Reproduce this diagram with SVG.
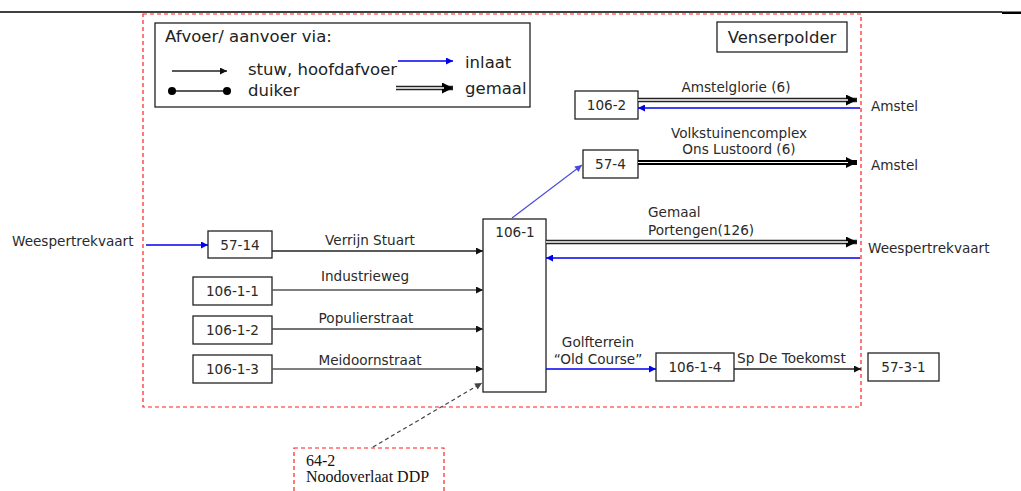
<svg xmlns="http://www.w3.org/2000/svg" width="1021" height="491" viewBox="0 0 1021 491">
<style>
.t{font-family:"DejaVu Sans",Verdana,sans-serif;font-size:13.6px;fill:#2a2a2a}
.tl{font-family:"DejaVu Sans",Verdana,sans-serif;font-size:16.5px;fill:#222}
.ts{font-family:"Liberation Serif","Times New Roman",serif;font-size:16px;fill:#111}
.box{fill:#fff;stroke:#222;stroke-width:1.3}
.red{fill:none;stroke:#ff2020;stroke-width:1.2;stroke-dasharray:4,3}
.blk{fill:none;stroke:#222;stroke-width:1.3}
.blu{fill:none;stroke:#0000ee;stroke-width:1.3}
.dbl{fill:none;stroke:#222;stroke-width:4.5}
.gap{fill:none;stroke:#fff;stroke-width:1.5}
</style>
<defs>
<marker id="ah" viewBox="0 0 10 10" refX="10" refY="5" markerWidth="8" markerHeight="7" markerUnits="userSpaceOnUse" orient="auto"><path d="M0,0 L10,5 L0,10 z" fill="#111"/></marker>
<marker id="ahb" viewBox="0 0 10 10" refX="10" refY="5" markerWidth="8" markerHeight="7" markerUnits="userSpaceOnUse" orient="auto"><path d="M0,0 L10,5 L0,10 z" fill="#0000ee"/></marker>
<marker id="ahl" viewBox="0 0 10 10" refX="10" refY="5" markerWidth="8" markerHeight="7" markerUnits="userSpaceOnUse" orient="auto"><path d="M0,0 L10,5 L0,10 z" fill="#4848dd"/></marker>
<marker id="ahg" viewBox="0 0 10 10" refX="10" refY="5" markerWidth="8" markerHeight="7" markerUnits="userSpaceOnUse" orient="auto"><path d="M0,0 L10,5 L0,10 z" fill="#444"/></marker>
<marker id="big" viewBox="0 0 10 10" refX="10" refY="5" markerWidth="11" markerHeight="11" markerUnits="userSpaceOnUse" orient="auto"><path d="M0,0 L10,5 L0,10 z" fill="#000"/></marker>
<marker id="dot" viewBox="0 0 10 10" refX="5" refY="5" markerWidth="8" markerHeight="8" markerUnits="userSpaceOnUse"><circle cx="5" cy="5" r="5" fill="#000"/></marker>
</defs>
<rect width="1021" height="491" fill="#fff"/>
<line x1="0" y1="12" x2="1002" y2="12" stroke="#000" stroke-width="1.3"/>
<rect x="1002" y="11.5" width="19" height="2.5" fill="#000"/>
<rect id="venserpolder-area" x="143" y="14" width="718" height="393" class="red"/>

<g id="legend">
<rect x="155" y="23" width="375" height="84" class="box"/>
<text x="165" y="42" class="tl">Afvoer/ aanvoer via:</text>
<line x1="172" y1="71" x2="227" y2="71" class="blk" marker-end="url(#ah)"/>
<text x="248" y="75" class="tl">stuw, hoofdafvoer</text>
<line x1="172" y1="91" x2="227" y2="91" class="blk" marker-start="url(#dot)" marker-end="url(#dot)"/>
<text x="248" y="96" class="tl">duiker</text>
<line x1="398" y1="61" x2="453" y2="61" class="blu" marker-end="url(#ahb)"/>
<text x="465" y="68" class="tl">inlaat</text>
<line x1="396" y1="88" x2="453" y2="88" class="dbl" marker-end="url(#big)"/>
<line x1="396" y1="88" x2="444" y2="88" class="gap"/>
<text x="465" y="94" class="tl">gemaal</text>
</g>

<g id="venserpolder-label">
<rect x="717" y="22" width="130" height="30" class="box"/>
<text x="782" y="43" class="tl" text-anchor="middle">Venserpolder</text>
</g>

<g id="n106-2"><rect x="575" y="91" width="63" height="28" class="box"/><text x="606.5" y="110" class="t" text-anchor="middle">106-2</text></g>
<g id="n57-4"><rect x="583" y="150" width="55" height="28" class="box"/><text x="610.5" y="169" class="t" text-anchor="middle">57-4</text></g>
<g id="n106-1"><rect x="483" y="219" width="63" height="173" class="box"/><text x="515" y="237" class="t" text-anchor="middle">106-1</text></g>
<g id="n57-14"><rect x="208" y="231" width="64" height="27" class="box"/><text x="240" y="249.5" class="t" text-anchor="middle">57-14</text></g>
<g id="n106-1-1"><rect x="193" y="277" width="79" height="28" class="box"/><text x="232.5" y="296" class="t" text-anchor="middle">106-1-1</text></g>
<g id="n106-1-2"><rect x="193" y="316" width="79" height="28" class="box"/><text x="232.5" y="335" class="t" text-anchor="middle">106-1-2</text></g>
<g id="n106-1-3"><rect x="193" y="355" width="79" height="28" class="box"/><text x="232.5" y="374" class="t" text-anchor="middle">106-1-3</text></g>
<g id="n106-1-4"><rect x="656" y="353" width="78" height="28" class="box"/><text x="695" y="372" class="t" text-anchor="middle">106-1-4</text></g>
<g id="n57-3-1"><rect x="868" y="353" width="71" height="28" class="box"/><text x="903.5" y="372" class="t" text-anchor="middle">57-3-1</text></g>
<g id="n64-2">
<rect x="294" y="448" width="150" height="50" class="red"/>
<text x="306" y="466" class="ts">64-2</text>
<text x="306" y="482" class="ts">Noodoverlaat DDP</text>
</g>
<g id="ext-labels">
<text x="871" y="111" class="t">Amstel</text>
<text x="871" y="170" class="t">Amstel</text>
<text x="868" y="253" class="t">Weespertrekvaart</text>
<text x="12" y="246" class="t">Weespertrekvaart</text>
</g>

<g id="connectors">
<line x1="638" y1="100" x2="857" y2="100" class="dbl" marker-end="url(#big)"/>
<line x1="638" y1="100" x2="848" y2="100" class="gap"/>
<line x1="860" y1="108" x2="638" y2="108" class="blu" marker-end="url(#ahb)"/>
<text x="736" y="92" class="t" text-anchor="middle">Amstelglorie (6)</text>

<line x1="638" y1="162.5" x2="857" y2="162.5" stroke="#000" stroke-width="5" marker-end="url(#big)"/>
<line x1="638" y1="162.5" x2="848" y2="162.5" stroke="#fff" stroke-width="1"/>
<text x="739" y="138" class="t" text-anchor="middle">Volkstuinencomplex</text>
<text x="739" y="154" class="t" text-anchor="middle">Ons Lustoord (6)</text>

<line x1="512" y1="218" x2="582" y2="165" stroke="#4848dd" stroke-width="1.1" marker-end="url(#ahl)"/>

<line x1="546" y1="242" x2="857" y2="242" class="dbl" marker-end="url(#big)"/>
<line x1="546" y1="242" x2="848" y2="242" class="gap"/>
<text x="648" y="217" class="t">Gemaal</text>
<text x="648" y="235" class="t">Portengen(126)</text>
<line x1="860" y1="258" x2="546" y2="258" class="blu" marker-end="url(#ahb)"/>

<line x1="146" y1="245" x2="208" y2="245" class="blu" marker-end="url(#ahb)"/>
<line x1="272" y1="251" x2="483" y2="251" class="blk" marker-end="url(#ah)"/>
<text x="370" y="245" class="t" text-anchor="middle">Verrijn Stuart</text>
<line x1="272" y1="290" x2="483" y2="290" stroke="#555" stroke-width="1.3" marker-end="url(#ah)"/>
<text x="365" y="281" class="t" text-anchor="middle">Industrieweg</text>
<line x1="272" y1="329" x2="483" y2="329" stroke="#444" stroke-width="1.3" marker-end="url(#ah)"/>
<text x="366" y="323" class="t" text-anchor="middle">Populierstraat</text>
<line x1="272" y1="369" x2="483" y2="369" stroke="#555" stroke-width="1.3" marker-end="url(#ah)"/>
<text x="370" y="365" class="t" text-anchor="middle">Meidoornstraat</text>

<line x1="546" y1="369" x2="656" y2="369" class="blu" marker-end="url(#ahb)"/>
<text x="598" y="347" class="t" text-anchor="middle">Golfterrein</text>
<text x="598" y="364" class="t" text-anchor="middle">“Old Course”</text>
<line x1="734" y1="369" x2="861" y2="369" class="blk" marker-end="url(#ah)"/>
<text x="737" y="363" class="t">Sp De Toekomst</text>

<line x1="373" y1="447" x2="482" y2="383" stroke="#444" stroke-width="1.2" stroke-dasharray="4,3" marker-end="url(#ahg)"/>
</g>
</svg>
